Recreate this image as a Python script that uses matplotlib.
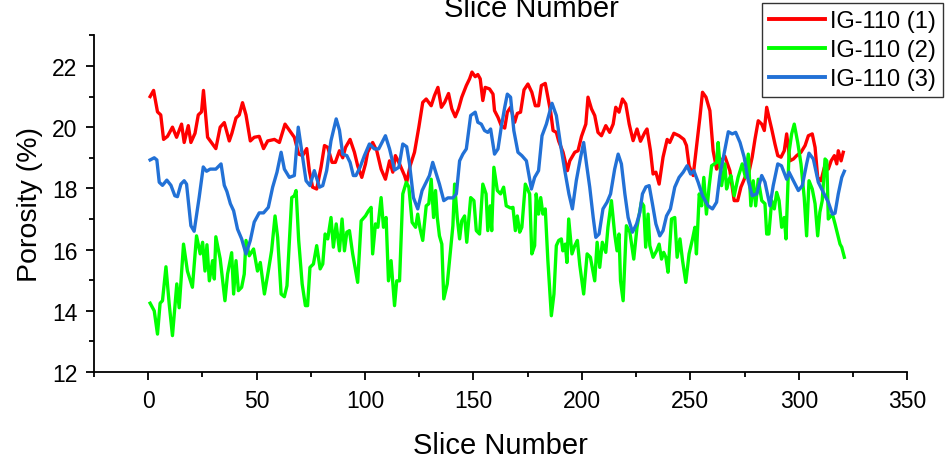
import matplotlib
matplotlib.use("Agg")
import matplotlib.pyplot as plt
from matplotlib.ticker import MultipleLocator

plt.rcParams["font.family"] = ["Liberation Sans", "DejaVu Sans"]

# porosity per slice, three IG-110 samples
slice_1 = [0.9, 2.5, 4.3, 5.8, 7.1, 8.9, 11.2, 13.1, 15.4, 16.6, 18.5, 19.7, 21.6, 23.1, 24.6, 25.5,
           27.4, 31.2, 33.2, 35.1, 37.4, 38.6, 40.5, 42.0, 43.5, 45.1, 47.1, 48.9, 51.2, 53.2, 55.1,
           58.2, 60.5, 63.1, 65.1, 67.4, 69.4, 71.2, 73.1, 74.3, 75.8, 77.7, 79.7, 81.3, 82.8, 84.8,
           86.3, 88.2, 89.7, 91.0, 93.1, 95.1, 96.6, 98.5, 100.2, 101.2, 103.5, 105.4, 107.4, 109.4,
           111.3, 112.8, 114.0, 115.9, 118.2, 119.2, 120.8, 122.8, 124.8, 126.6, 128.2, 130.5, 132.0,
           133.6, 135.2, 136.7, 138.5, 140.0, 141.6, 143.1, 144.6, 146.7, 148.2, 149.3, 150.8, 152.0,
           153.1, 154.3, 155.4, 157.4, 159.0, 159.7, 161.3, 162.8, 164.4, 165.6, 167.1, 169.0, 170.2,
           171.7, 173.3, 175.1, 176.9, 178.5, 180.0, 181.3, 183.1, 184.3, 185.6, 186.7, 188.2, 189.3,
           191.3, 193.3, 194.4, 196.7, 198.2, 199.8, 201.8, 202.8, 204.4, 205.9, 207.4, 209.0, 211.0,
           212.8, 214.4, 215.6, 217.1, 218.7, 220.2, 221.8, 223.6, 225.4, 227.0, 229.0, 230.0, 231.6,
           232.8, 234.1, 235.6, 237.4, 239.3, 240.5, 242.4, 244.8, 247.0, 248.2, 249.4, 251.3, 252.8,
           254.4, 255.6, 257.2, 259.0, 260.5, 262.1, 263.6, 265.9, 268.2, 270.2, 271.8, 273.3, 275.2,
           277.0, 278.5, 279.8, 281.3, 282.9, 284.1, 285.2, 286.4, 287.5, 289.0, 290.3, 291.8, 293.3,
           294.4, 295.9, 297.5, 299.0, 301.0, 302.9, 304.4, 306.2, 307.5, 308.7, 310.2, 311.8, 313.6,
           314.9, 316.4, 317.5, 318.2, 319.5, 320.5]
porosity_1 = [21.0, 21.2, 20.5, 20.4, 19.6, 19.7, 20.0, 19.67, 20.1, 19.5, 20.05, 19.5, 19.8, 20.4, 20.5,
              21.2, 19.67, 19.3, 20.0, 20.15, 19.55, 19.8, 20.3, 20.4, 20.8, 20.4, 19.55, 19.67, 19.7,
              19.3, 19.55, 19.6, 19.5, 20.1, 19.9, 19.67, 19.12, 19.07, 19.3, 18.58, 18.04, 17.98, 18.69,
              19.4, 19.34, 18.85, 18.85, 19.23, 19.0, 19.34, 19.6, 19.18, 18.74, 18.36, 18.8, 19.18, 19.5,
              19.23, 18.63, 18.3, 18.9, 18.53, 19.07, 18.8, 18.42, 18.2, 18.74, 19.18, 20.0, 20.81, 20.92,
              20.7, 21.03, 21.3, 20.65, 20.81, 21.1, 20.6, 20.34, 20.6, 20.98, 21.36, 21.58, 21.8, 21.65,
              21.72, 21.58, 20.87, 21.3, 21.25, 21.08, 20.54, 20.32, 20.05, 19.97, 20.49, 20.65, 20.16,
              20.45, 20.49, 21.22, 21.41, 21.14, 20.7, 20.7, 21.36, 21.43, 20.98, 20.49, 19.89, 19.83,
              19.54, 19.18, 18.58, 18.9, 19.18, 19.23, 19.7, 20.1, 20.98, 20.6, 20.38, 19.83, 19.72, 20.05,
              19.83, 20.1, 20.65, 20.49, 20.92, 20.76, 20.1, 19.56, 19.94, 19.54, 19.83, 19.94, 19.23,
              18.47, 18.53, 18.14, 19.02, 19.6, 19.5, 19.8, 19.72, 19.6, 19.4, 18.74, 18.42, 19.34, 20.32,
              21.14, 20.98, 20.54, 19.23, 18.63, 18.85, 19.05, 18.58, 17.6, 17.6, 18.04, 18.36, 18.53,
              19.02, 19.61, 20.21, 20.1, 19.89, 20.65, 20.27, 19.94, 19.45, 19.07, 19.02, 19.23, 19.78,
              18.9, 18.96, 19.07, 19.18, 19.4, 19.72, 19.78, 19.34, 18.36, 18.25, 18.69, 18.63, 18.9,
              19.07, 18.8, 19.23, 18.9, 19.18]

slice_2 = [0.9, 2.8, 4.3, 5.5, 6.6, 8.2, 9.7, 11.2, 13.2, 14.3, 16.3, 18.1, 20.4, 22.3, 24.0, 25.1, 26.2,
           27.1, 28.2, 29.7, 30.5, 31.2, 33.2, 35.4, 36.6, 38.5, 39.4, 40.5, 41.6, 43.1, 44.3, 45.1,
           46.6, 48.6, 50.4, 51.7, 53.6, 55.4, 56.9, 58.5, 59.7, 61.3, 62.8, 64.0, 66.2, 67.4, 68.2,
           69.4, 71.0, 72.5, 73.5, 74.6, 76.2, 77.7, 79.3, 80.5, 81.6, 82.8, 84.3, 85.4, 86.7, 88.2,
           89.4, 90.5, 91.6, 92.8, 94.3, 96.6, 98.2, 100.2, 101.6, 102.8, 103.5, 104.8, 105.9, 107.4,
           108.5, 109.7, 110.8, 112.0, 113.6, 114.6, 115.9, 117.4, 119.0, 120.2, 121.7, 123.3, 124.3,
           125.4, 126.6, 128.2, 129.4, 130.5, 131.6, 132.5, 133.3, 134.3, 135.4, 136.3, 137.9, 139.4,
           140.5, 141.3, 142.5, 143.6, 144.6, 145.9, 146.9, 148.7, 150.2, 151.3, 152.8, 154.3, 155.8,
           156.6, 157.7, 158.4, 159.4, 161.0, 162.5, 163.9, 165.1, 167.1, 168.2, 169.3, 170.2, 171.3,
           172.3, 173.9, 175.9, 176.9, 178.2, 178.9, 180.0, 181.0, 182.0, 183.1, 184.3, 185.9, 187.1,
           188.2, 189.3, 190.5, 191.2, 192.3, 193.1, 193.9, 195.4, 196.7, 197.9, 199.0, 200.8, 202.4,
           203.9, 205.9, 207.0, 208.2, 209.4, 211.0, 212.0, 213.6, 215.1, 216.2, 217.1, 217.8, 219.0,
           220.5, 222.1, 223.9, 225.4, 227.4, 228.5, 229.4, 230.5, 231.3, 232.8, 234.4, 235.6, 236.7,
           237.7, 238.7, 239.7, 241.3, 242.8, 243.9, 245.2, 246.4, 247.9, 249.4, 251.0, 252.1, 252.8,
           254.1, 255.2, 256.2, 257.4, 258.7, 259.8, 262.1, 262.8, 264.4, 265.9, 266.7, 267.9, 268.7,
           270.2, 272.0, 273.9, 275.4, 276.7, 277.9, 279.0, 280.1, 281.3, 282.9, 284.4, 285.2, 286.2,
           287.5, 288.7, 289.8, 290.9, 292.1, 293.3, 294.1, 295.5, 296.7, 297.9, 299.5, 301.0, 302.5,
           303.6, 304.7, 306.2, 307.5, 308.7, 309.7, 310.8, 312.1, 312.9, 313.6, 315.5, 316.7, 319.0,
           319.8, 321.0]
porosity_2 = [14.25, 14.0, 13.24, 14.25, 14.33, 15.44, 14.22, 13.19, 14.88, 14.1, 16.18, 15.3, 14.77,
              16.45, 15.86, 16.24, 15.3, 16.16, 14.98, 15.64, 15.04, 16.42, 15.7, 14.33, 15.2, 15.9,
              14.55, 15.64, 14.66, 14.77, 15.2, 16.3, 15.8, 16.02, 15.3, 15.58, 14.55, 15.3, 15.96, 17.1,
              16.4, 14.55, 14.46, 14.82, 17.7, 17.76, 17.93, 16.3, 14.88, 14.17, 14.17, 15.42, 15.53,
              16.13, 15.37, 15.53, 16.51, 16.35, 17.05, 16.08, 16.84, 15.96, 17.0, 15.96, 16.57, 16.62,
              15.86, 14.93, 16.94, 17.1, 17.27, 17.38, 15.86, 16.84, 16.73, 17.7, 16.73, 17.05, 14.98,
              15.64, 14.17, 14.98, 14.98, 17.82, 18.2, 18.04, 16.89, 16.73, 17.16, 16.67, 16.3, 17.43,
              17.5, 18.3, 17.05, 17.93, 17.05, 16.45, 16.18, 14.39, 14.88, 15.96, 16.78, 18.14, 17.05,
              16.35, 16.94, 17.1, 16.24, 17.7, 17.6, 16.62, 16.51, 18.14, 17.82, 16.62, 17.43, 16.62,
              18.69, 17.93, 17.82, 18.04, 17.43, 17.36, 17.38, 16.62, 17.1, 16.57, 16.73, 18.14, 17.82,
              15.86, 16.13, 17.82, 17.16, 17.7, 17.16, 17.33, 15.64, 13.84, 14.55, 16.13, 16.3, 16.35,
              15.96, 16.18, 15.58, 17.0, 15.86, 16.13, 16.3, 15.5, 14.55, 15.86, 15.75, 14.98, 16.24,
              15.42, 16.24, 15.91, 16.73, 17.6, 16.51, 15.96, 16.51, 14.98, 14.33, 16.78, 16.57, 15.69,
              16.73, 17.55, 17.43, 16.08, 17.16, 16.13, 15.75, 15.96, 16.18, 15.69, 15.91, 15.75, 15.26,
              17.0, 17.05, 15.75, 16.35, 15.64, 14.93, 15.86, 16.35, 16.73, 15.86, 17.82, 17.43, 18.36,
              17.16, 18.09, 18.74, 18.85, 19.5, 18.09, 18.8, 17.98, 18.3, 18.42, 17.76, 18.36, 18.8,
              18.36, 19.12, 17.43, 18.25, 17.43, 18.3, 17.6, 17.5, 16.51, 16.51, 17.6, 17.33, 17.87,
              17.6, 16.73, 17.05, 16.35, 19.18, 19.78, 20.1, 19.5, 18.8, 17.7, 16.45, 18.25, 17.98, 17.5,
              16.45, 17.22, 17.6, 18.96, 18.9, 17.0, 17.16, 16.84, 16.18, 16.08, 15.75]

slice_3 = [0.9, 2.8, 4.0, 5.1, 6.6, 8.6, 10.5, 12.3, 13.5, 15.1, 16.6, 17.7, 19.7, 21.2, 23.5, 25.4, 26.9,
           28.6, 31.2, 33.6, 35.1, 36.3, 37.9, 39.4, 41.2, 43.1, 45.1, 47.1, 48.9, 51.2, 53.2, 55.4,
           57.4, 59.4, 61.3, 62.8, 65.1, 67.4, 69.2, 71.0, 72.8, 74.6, 76.6, 79.0, 80.5, 82.3, 84.3,
           86.7, 88.2, 89.7, 91.6, 93.1, 94.6, 95.8, 97.7, 99.7, 102.0, 104.3, 106.3, 109.4, 111.3,
           113.6, 115.6, 117.4, 119.2, 120.5, 122.3, 124.3, 126.3, 128.2, 129.7, 131.2, 134.3, 136.3,
           138.2, 140.5, 142.1, 143.6, 145.1, 146.7, 148.7, 150.8, 152.0, 153.6, 155.1, 156.6, 157.9,
           159.7, 161.3, 162.8, 164.4, 165.6, 167.1, 168.6, 170.5, 172.3, 174.4, 176.7, 178.2, 180.0,
           181.6, 183.6, 186.2, 188.2, 190.2, 192.1, 194.0, 195.6, 197.4, 199.4, 200.8, 202.1, 203.6,
           205.2, 206.4, 207.9, 209.7, 211.6, 213.2, 215.1, 216.7, 218.2, 219.8, 221.3, 223.3, 225.2,
           226.7, 227.9, 229.5, 231.0, 232.5, 234.1, 235.9, 237.4, 239.0, 240.8, 242.8, 244.8, 246.7,
           248.5, 250.1, 251.6, 253.6, 255.6, 258.2, 260.2, 262.1, 263.6, 265.5, 267.5, 269.3, 270.9,
           272.9, 274.8, 276.7, 278.5, 280.6, 282.9, 284.4, 286.7, 288.2, 290.3, 292.0, 294.4, 295.5,
           297.5, 299.8, 301.6, 303.6, 304.7, 306.7, 309.0, 311.3, 313.6, 315.5, 316.7, 318.2, 319.8,
           321.0]
porosity_3 = [18.93, 19.0, 18.93, 18.2, 18.1, 18.27, 18.1, 17.76, 17.73, 18.14, 18.25, 18.14, 16.78, 16.6,
              17.7, 18.7, 18.56, 18.63, 18.63, 18.8, 18.1, 17.9, 17.5, 17.27, 16.67, 16.35, 15.86, 16.3,
              16.9, 17.2, 17.2, 17.38, 18.04, 18.53, 19.18, 18.63, 18.36, 18.42, 20.0, 19.12, 18.25,
              18.09, 18.58, 18.04, 18.09, 18.58, 19.56, 20.27, 19.9, 19.12, 19.07, 18.85, 18.42, 18.42,
              18.69, 19.07, 19.45, 19.29, 19.29, 19.72, 19.29, 18.6, 18.69, 19.45, 19.36, 18.8, 17.7,
              17.33, 17.93, 18.2, 18.42, 18.85, 18.14, 17.6, 17.69, 17.69, 17.82, 18.9, 19.12, 19.29,
              20.38, 20.49, 20.16, 20.1, 19.89, 19.83, 19.94, 19.12, 19.29, 20.0, 20.65, 21.08, 20.98,
              19.89, 19.18, 19.07, 18.9, 17.98, 18.36, 18.58, 19.72, 20.1, 20.78, 20.38, 19.4, 18.58,
              17.82, 17.33, 18.25, 19.02, 19.5, 18.8, 18.04, 17.05, 16.4, 16.51, 17.33, 17.55, 17.82,
              18.63, 19.12, 18.8, 17.82, 17.05, 16.57, 16.84, 17.22, 17.82, 18.05, 18.09, 17.5, 16.84,
              16.45, 16.62, 17.1, 17.33, 18.04, 18.36, 18.53, 18.74, 18.47, 18.58, 18.2, 17.76, 17.43,
              17.33, 17.55, 18.42, 19.12, 19.85, 19.78, 19.83, 19.5, 19.02, 18.25, 17.76, 17.82, 18.42,
              18.2, 17.43, 18.09, 18.8, 18.74, 18.3, 18.53, 18.25, 17.93, 18.09, 18.8, 19.15, 18.96,
              18.2, 17.87, 17.55, 17.16, 17.19, 17.82, 18.36, 18.56]

labels = ["IG-110 (1)", "IG-110 (2)", "IG-110 (3)"]
colors = ["#ff0000", "#00ff00", "#2271d6"]

fig = plt.figure(figsize=(9.49, 4.60), dpi=100)
ax = fig.add_axes([0.099, 0.189, 0.857, 0.732])

for xs, ys, lab, col in zip([slice_1, slice_2, slice_3], [porosity_1, porosity_2, porosity_3],
                            labels, colors):
    ax.plot(xs, ys, color=col, linewidth=2.4, label=lab)

ax.set_xlim(-25, 350)
ax.set_ylim(12, 23)
ax.xaxis.set_major_locator(MultipleLocator(50))
ax.xaxis.set_minor_locator(MultipleLocator(25))
ax.yaxis.set_major_locator(MultipleLocator(2))
ax.yaxis.set_minor_locator(MultipleLocator(1))

for side in ["top", "right"]:
    ax.spines[side].set_visible(False)
for side in ["left", "bottom"]:
    ax.spines[side].set_linewidth(1.3)

ax.tick_params(which="major", direction="out", length=6, width=1.3, labelsize=16.5, pad=6)
ax.tick_params(which="minor", direction="out", length=3.5, width=1.3)

ax.set_xlabel("Slice Number", fontsize=21, labelpad=14)
ax.set_ylabel("Porosity (%)", fontsize=20.5, labelpad=6)

# top axis title, partly outside the canvas
fig.text(0.5596, 1 - 17 / 460, "Slice Number", fontsize=21, ha="center", va="baseline")

leg = fig.legend(loc="upper right", bbox_to_anchor=(0.9937, 0.9913), fontsize=17,
                 frameon=True, fancybox=False, handlelength=2.4, handletextpad=0.2,
                 borderpad=0.3, labelspacing=0.3, borderaxespad=0)
leg.get_frame().set_edgecolor("black")
leg.get_frame().set_linewidth(1.0)
for line in leg.get_lines():
    line.set_linewidth(2.8)

fig.savefig("out.png", dpi=100)
